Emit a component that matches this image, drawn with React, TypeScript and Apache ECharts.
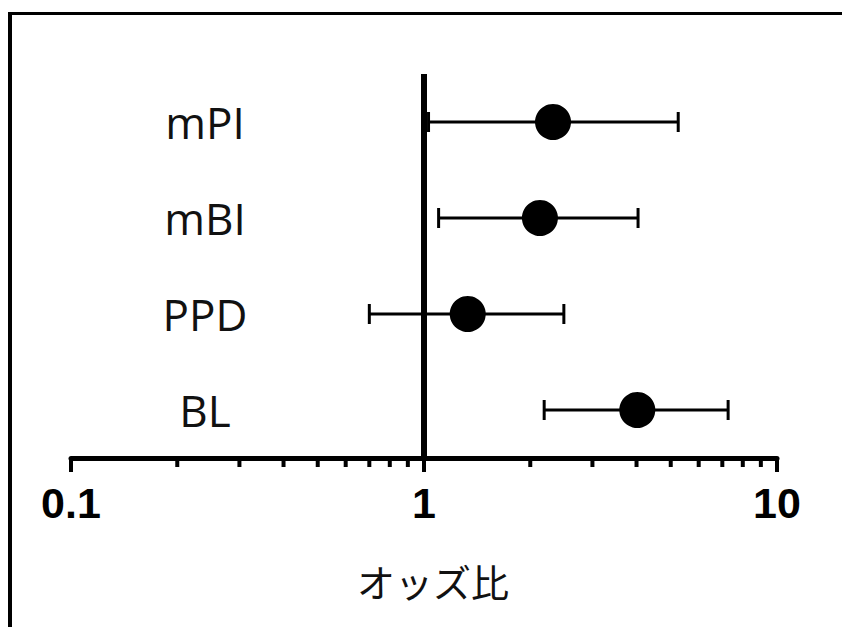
import React, { useEffect, useRef } from "react";
import * as echarts from "echarts";

const categories = ["mPI", "mBI", "PPD", "BL"];
const oddsRatio = [2.32, 2.13, 1.33, 4.02];
const lowerCI = [1.03, 1.1, 0.7, 2.19];
const upperCI = [5.25, 4.04, 2.49, 7.27];
const minorTickValues = [0.2, 0.3, 0.4, 0.5, 0.6, 0.7, 0.8, 0.9, 2, 3, 4, 5, 6, 7, 8, 9];
const axisTitle = "オッズ比";

export default function App() {
  const ref = useRef<HTMLDivElement>(null);
  useEffect(() => {
    if (!ref.current) return;
    const chart = echarts.init(ref.current, null, { renderer: "svg" });
    const option: any = {
      animation: false,
      backgroundColor: "#ffffff",
      grid: { left: 71, right: 65, top: 74, bottom: 169, containLabel: false },
      xAxis: {
        type: "log",
        logBase: 10,
        min: 0.1,
        max: 10,
        splitLine: { show: false },
        axisLine: { show: true, lineStyle: { color: "#000", width: 5 } },
        axisTick: { show: true, length: 14, lineStyle: { color: "#000", width: 4 } },
        axisLabel: {
          color: "#000",
          fontFamily: "'Liberation Sans', Arial",
          fontWeight: "bold",
          fontSize: 43,
          margin: 23,
        },
        name: axisTitle,
        nameLocation: "middle",
        nameGap: 103,
        nameTextStyle: {
          color: "#111",
          fontFamily: "Noto Sans CJK JP",
          fontSize: 38,
          padding: [0, 0, 0, 18],
        },
      },
      yAxis: {
        type: "category",
        data: categories,
        inverse: true,
        axisLine: { show: false },
        axisTick: { show: false },
        splitLine: { show: false },
        axisLabel: {
          inside: true,
          align: "center",
          margin: 134,
          color: "#111",
          fontFamily: "Open Sans",
          fontSize: 44,
        },
      },
      series: [
        {
          type: "custom",
          clip: false,
          silent: true,
          data: minorTickValues.map((v) => [v, 0]),
          encode: { x: 0, y: 1 },
          renderItem: (params: any, api: any) => {
            const x = api.coord([api.value(0), 0])[0];
            const cs = params.coordSys;
            const y0 = cs.y + cs.height;
            return {
              type: "line",
              shape: { x1: x, y1: y0, x2: x, y2: y0 + 9 },
              style: { stroke: "#000", lineWidth: 4 },
            };
          },
        },
        {
          type: "custom",
          clip: false,
          silent: true,
          data: categories.map((c, i) => [lowerCI[i], upperCI[i], i]),
          encode: { x: [0, 1], y: 2 },
          renderItem: (params: any, api: any) => {
            const idx = api.value(2);
            const p1 = api.coord([api.value(0), idx]);
            const p2 = api.coord([api.value(1), idx]);
            const h = 10;
            const st = { stroke: "#000", lineWidth: 3 };
            return {
              type: "group",
              children: [
                { type: "line", shape: { x1: p1[0], y1: p1[1], x2: p2[0], y2: p2[1] }, style: st },
                { type: "line", shape: { x1: p1[0], y1: p1[1] - h, x2: p1[0], y2: p1[1] + h }, style: st },
                { type: "line", shape: { x1: p2[0], y1: p2[1] - h, x2: p2[0], y2: p2[1] + h }, style: st },
              ],
            };
          },
        },
        {
          type: "scatter",
          symbol: "circle",
          symbolSize: 36,
          itemStyle: { color: "#000", opacity: 1 },
          data: categories.map((c, i) => [oddsRatio[i], c]),
          markLine: {
            silent: true,
            symbol: "none",
            label: { show: false },
            lineStyle: { color: "#000", width: 6, type: "solid", opacity: 1 },
            data: [{ xAxis: 1 }],
          },
          z: 3,
        },
      ],
      graphic: [
        { type: "line", shape: { x1: 8, y1: 13.5, x2: 842, y2: 13.5 }, style: { stroke: "#000", lineWidth: 3 } },
        { type: "line", shape: { x1: 10, y1: 12, x2: 10, y2: 627 }, style: { stroke: "#000", lineWidth: 4 } },
      ],
    };
    chart.setOption(option);
    return () => chart.dispose();
  }, []);
  return (
    <div
      ref={ref}
      style={{ position: "fixed", left: 0, top: 0, width: 842, height: 627, background: "#fff" }}
    />
  );
}
